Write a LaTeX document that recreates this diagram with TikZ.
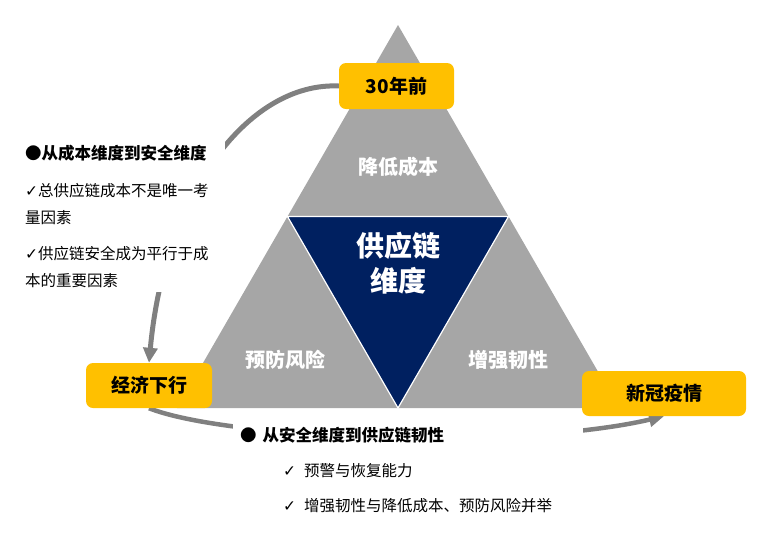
\documentclass[tikz,border=0pt]{standalone}
\usepackage{fontspec}
\setmainfont{Noto Sans CJK SC}
\newfontfamily\symfont{DejaVu Sans}
\usetikzlibrary{arrows.meta,positioning}
\definecolor{amber}{HTML}{FFC000}
\definecolor{navyblue}{HTML}{002060}
\definecolor{pyramidgray}{HTML}{A6A6A6}
\definecolor{flowgray}{HTML}{808080}
\pgfdeclarelayer{bg}
\pgfsetlayers{bg,main}
\newcommand{\tick}{{\symfont\char"2713}}
\tikzset{
  era/.style={rounded corners=7pt,fill=amber,inner sep=0pt,font=\bfseries\fontsize{19}{22}\selectfont},
  facet/.style={text=white,font=\bfseries\fontsize{20}{24}\selectfont},
  flow/.style={flowgray,line width=5pt,-{Triangle[length=15pt,width=14pt]}},
  notes/.style={fill=white,align=left,anchor=north west,font=\fontsize{15.5}{27}\selectfont}
}

\begin{document}
\begin{tikzpicture}[x=1pt,y=-1pt]
	\useasboundingbox (0,0) rectangle (761,542);
	
	\node[era,minimum width=115pt,minimum height=46pt] (ago) at (396.5,86) {30年前};
	\node[era,minimum width=126pt,minimum height=45pt] (slump) at (149,385.5) {经济下行};
	\node[era,minimum width=164pt,minimum height=45pt] (covid) at (664,393.5) {新冠疫情};
	
	\node[facet] (cost) at (398,167) {降低成本};
	\node[facet] (risk) at (285,360) {预防风险};
	\node[facet] (resil) at (508,360) {增强韧性};
	\node[text=white,align=center,font=\bfseries\fontsize{28}{35}\selectfont] (core) at (398,263) {供应链\\维度};
	
	\node[notes,text width=196pt,inner sep=4pt] (costnote) at (21,141) {%
		{\bfseries\fontsize{16.5}{27}\selectfont ●从成本维度到安全维度}\\[10pt]
		\tick 总供应链成本不是唯一考\\
		量因素\\[9pt]
		\tick 供应链安全成为平行于成\\
		本的重要因素};
	
	\node[notes,text width=336pt,inner xsep=7pt,inner ysep=4pt,font=\fontsize{15.5}{35}\selectfont] (resilnote) at (233,423) {%
		{\bfseries\fontsize{16.5}{35}\selectfont ●\hspace{6pt}从安全维度到供应链韧性}\\
		\hspace*{43pt}\tick\hspace{8pt}预警与恢复能力\\
		\hspace*{43pt}\tick\hspace{8pt}增强韧性与降低成本、预防风险并举};
	
	\begin{pgfonlayer}{bg}
	\fill[pyramidgray] (398,25) -- (619,408) -- (177,408) -- cycle;
	\filldraw[fill=navyblue,draw=white,line width=1.2pt] (287.5,216.5) -- (508.5,216.5) -- (398,408) -- cycle;
	
	\draw[flow] (ago.west) .. controls (250,82) and (165,190) .. (slump.north);
	\draw[flow,line width=4.5pt] (slump.south) .. controls (230,440) and (520,450) .. (covid.south);
	\end{pgfonlayer}
\end{tikzpicture}
\end{document}
